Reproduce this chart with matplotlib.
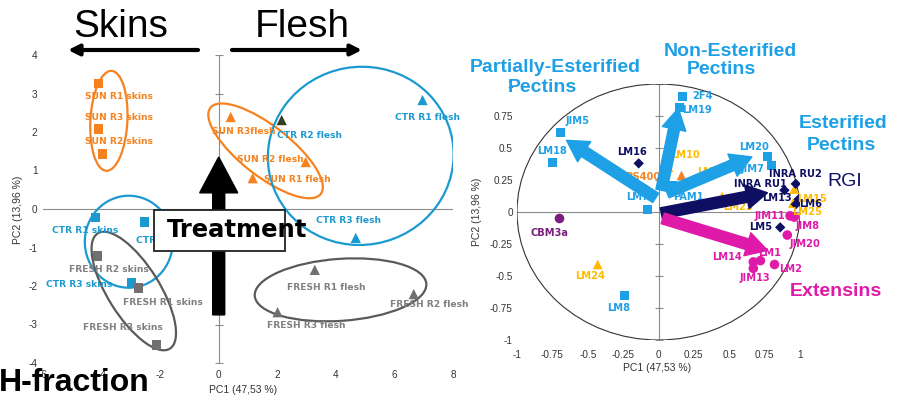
import matplotlib

matplotlib.use("Agg")
import matplotlib.pyplot as plt
import numpy as np
from matplotlib import transforms
from matplotlib.patches import Ellipse, FancyArrow, FancyArrowPatch, Rectangle

W, H = 913, 399

ORANGE = "#f5821f"
BLUE = "#1b9ad0"
GREY = "#707070"
LIGHT_BLUE = "#1ea0e6"
YELLOW = "#ffba00"
NAVY = "#0e0e63"
MAGENTA = "#e01aa8"
PURPLE = "#7a1f7e"
AXIS_GREY = "#8c8c8c"
ARIAL = ["Liberation Sans", "DejaVu Sans"]

# ---- sample scores (PC1 / PC2), left plot
sun_skins_names = ["SUN R1 skins", "SUN R3 skins", "SUN R2 skins"]
sun_skins_x = [-4.10, -4.10, -3.96]
sun_skins_y = [3.25, 2.08, 1.43]

sun_flesh_names = ["SUN R3flesh", "SUN R2 flesh", "SUN R1 flesh"]
sun_flesh_x = [0.41, 2.97, 1.16]
sun_flesh_y = [2.39, 1.22, 0.80]

ctr_skins_names = ["CTR R1 skins", "CTR R2 skins", "CTR R3 skins"]
ctr_skins_x = [-4.20, -2.53, -2.97]
ctr_skins_y = [-0.23, -0.34, -1.90]

ctr_flesh_names = ["CTR R1 flesh", "CTR R2 flesh", "CTR R3 flesh"]
ctr_flesh_x = [6.96, 2.15, 4.68]
ctr_flesh_y = [2.83, 2.31, -0.75]

fresh_skins_names = ["FRESH R2 skins", "FRESH R1 skins", "FRESH R3 skins"]
fresh_skins_x = [-4.13, -2.73, -2.12]
fresh_skins_y = [-1.22, -2.05, -3.53]

fresh_flesh_names = ["FRESH R1 flesh", "FRESH R2 flesh", "FRESH R3 flesh"]
fresh_flesh_x = [3.28, 6.66, 2.01]
fresh_flesh_y = [-1.58, -2.21, -2.68]

score_ticks_x = [-6, -4, -2, 0, 2, 4, 6, 8]
score_ticks_y = [-4, -3, -2, -1, 0, 1, 2, 3, 4]

# ---- antibody loadings, right plot
hg_names = ["2F4", "LM19", "JIM5", "LM18", "LM20", "JIM7", "LM7", "PAM1", "LM8"]
hg_x = [0.17, 0.15, -0.69, -0.75, 0.77, 0.80, -0.08, 0.10, -0.24]
hg_y = [0.90, 0.82, 0.62, 0.39, 0.43, 0.36, 0.02, 0.21, -0.65]

hemi_names = ["LM10", "LM21", "LM23", "LM15", "LM25", "LM24"]
hemi_x = [0.07, 0.27, 0.45, 0.96, 0.95, -0.43]
hemi_y = [0.35, 0.26, 0.12, 0.18, 0.07, -0.41]

bs_names = ["BS400"]
bs_x = [0.16]
bs_y = [0.29]

rg_names = ["LM16", "INRA RU2", "INRA RU1", "LM13", "LM6", "LM5"]
rg_x = [-0.14, 0.97, 0.89, 0.99, 0.97, 0.86]
rg_y = [0.38, 0.22, 0.17, 0.10, 0.06, -0.12]

ext_names = ["JIM11", "JIM8", "JIM20", "LM1", "LM14", "JIM13", "LM2"]
ext_x = [0.93, 0.96, 0.91, 0.72, 0.67, 0.67, 0.82]
ext_y = [-0.03, -0.04, -0.18, -0.38, -0.39, -0.44, -0.41]

cbm_names = ["CBM3a"]
cbm_x = [-0.70]
cbm_y = [-0.05]

loading_ticks = [-1, -0.75, -0.5, -0.25, 0, 0.25, 0.5, 0.75, 1]
loading_tick_labels = ["-1", "-0.75", "-0.5", "-0.25", "0", "0.25", "0.5", "0.75", "1"]

# label offsets in pixels (dx, dy)
LABEL_OFFSETS = {
    "SUN R1 skins": (20, -13), "SUN R3 skins": (20, 11), "SUN R2 skins": (16, 12),
    "SUN R3flesh": (13, -15), "SUN R2 flesh": (-35, 3), "SUN R1 flesh": (45, -1),
    "CTR R1 skins": (-11, -13), "CTR R2 skins": (25, -18), "CTR R3 skins": (-53, -2),
    "CTR R1 flesh": (5, -17), "CTR R2 flesh": (28, -15), "CTR R3 flesh": (-7, 17),
    "FRESH R2 skins": (11, -14), "FRESH R1 skins": (24, -15), "FRESH R3 skins": (-34, 17),
    "FRESH R1 flesh": (11, -18), "FRESH R2 flesh": (15, -10), "FRESH R3 flesh": (29, -13),
    "2F4": (20, 1), "LM19": (17, -3), "JIM5": (17, 12), "LM18": (0, 11),
    "LM20": (-13, 10), "JIM7": (-19, -3), "LM7": (-10, 12), "PAM1": (16, -12),
    "LM8": (-6, -13), "LM10": (17, 12), "LM21": (15, 7), "LM23": (16, -10),
    "LM15": (18, -10), "LM25": (14, -9), "LM24": (-8, -12), "BS400": (-38, -2),
    "LM16": (-7, 11), "INRA RU2": (0, 10), "INRA RU1": (-24, 6), "LM13": (-22, 1),
    "LM6": (15, 0), "LM5": (-20, 0), "JIM11": (-20, 0), "JIM8": (13, -9),
    "JIM20": (18, -9), "LM1": (9, 8), "LM14": (-26, 5), "JIM13": (2, -10),
    "LM2": (16, -5), "CBM3a": (-10, -15),
}
MARKER_COLOR_OVERRIDE = {"CTR R2 flesh": "#34401f"}


def fig_xy(px, py):
    """Top-left pixel position -> figure fraction."""
    return px / W, (H - py) / H


def draw_group(ax, xs, ys, names, marker, color, size, label_color=None, fontsize=6.6):
    colors = [MARKER_COLOR_OVERRIDE.get(n, color) for n in names]
    ax.scatter(xs, ys, marker=marker, s=size, c=colors, linewidths=0, zorder=3)
    for x, y, name in zip(xs, ys, names):
        ax.annotate(name, (x, y), xytext=LABEL_OFFSETS[name], textcoords="offset pixels",
                    ha="center", va="center", fontsize=fontsize, fontweight="bold",
                    color=label_color or color, zorder=4)


def pixel_ellipse(ax, center, width, height, angle, color):
    # size in pixels, centred on a data point
    trans = ax.figure.dpi_scale_trans + transforms.ScaledTranslation(
        center[0], center[1], ax.transData)
    dpi = ax.figure.dpi
    ax.add_patch(Ellipse((0, 0), width / dpi, height / dpi, angle=angle, transform=trans,
                         fill=False, edgecolor=color, linewidth=1.6, zorder=2))


def style_axes(ax, ticks_x, ticks_y, xlabels, ylabels):
    for side in ax.spines.values():
        side.set_visible(False)
    ax.set_xticks(ticks_x)
    ax.set_yticks(ticks_y)
    ax.set_xticklabels(xlabels)
    ax.set_yticklabels(ylabels)
    ax.tick_params(length=0, labelsize=7.2, labelcolor="#333333")
    for lbl in ax.get_xticklabels() + ax.get_yticklabels():
        lbl.set_family(ARIAL)
    ax.axhline(0, color=AXIS_GREY, linewidth=0.8, zorder=1)
    ax.plot([0, 0], [ticks_y[0], ticks_y[-1]], color=AXIS_GREY, linewidth=0.8, zorder=1)
    ax.plot(np.zeros(len(ticks_y)), ticks_y, ls="none", marker="_", ms=6,
            mew=0.8, color=AXIS_GREY, zorder=1)


fig = plt.figure(figsize=(W / 100, H / 100), dpi=100)

# ================= left: scores =================
ax1 = fig.add_axes([43 / W, (H - 363) / H, 410 / W, 308 / H])
ax1.set_xlim(-6, 8)
ax1.set_ylim(-4, 4)
style_axes(ax1, score_ticks_x, score_ticks_y,
           [str(v) for v in score_ticks_x], [str(v) for v in score_ticks_y])
ax1.tick_params(axis="x", pad=5)
ax1.tick_params(axis="y", pad=4)
ax1.text(0.488, -0.088, "PC1 (47,53 %)", transform=ax1.transAxes, ha="center", va="center",
         fontsize=7.5, family=ARIAL, color="#333333")
ax1.text(-0.061, 0.497, "PC2 (13,96 %)", transform=ax1.transAxes, ha="center", va="center",
         rotation=90, fontsize=7.5, family=ARIAL, color="#333333")

pixel_ellipse(ax1, (-3.75, 2.29), 37, 100, -3, ORANGE)
pixel_ellipse(ax1, (1.60, 1.51), 140, 50, -38, ORANGE)
pixel_ellipse(ax1, (4.85, 1.38), 186, 178, 10, BLUE)
pixel_ellipse(ax1, (-3.07, -0.85), 88, 92, 0, BLUE)
pixel_ellipse(ax1, (-2.90, -2.13), 136, 52, -58, "#5a5a5a")
pixel_ellipse(ax1, (4.16, -2.10), 172, 62, 4, "#5a5a5a")

draw_group(ax1, sun_skins_x, sun_skins_y, sun_skins_names, "s", ORANGE, 44)
draw_group(ax1, sun_flesh_x, sun_flesh_y, sun_flesh_names, "^", ORANGE, 55)
draw_group(ax1, ctr_skins_x, ctr_skins_y, ctr_skins_names, "s", BLUE, 44)
draw_group(ax1, ctr_flesh_x, ctr_flesh_y, ctr_flesh_names, "^", BLUE, 55)
draw_group(ax1, fresh_skins_x, fresh_skins_y, fresh_skins_names, "s", GREY, 44,
           label_color="#808080")
draw_group(ax1, fresh_flesh_x, fresh_flesh_y, fresh_flesh_names, "^", GREY, 55,
           label_color="#808080")

# treatment arrow with its box
ax1.add_patch(FancyArrow(0, -2.75, 0, 4.1, width=0.41, head_width=1.3, head_length=0.93,
                         length_includes_head=True, color="black", zorder=6))
bx, by = fig_xy(154, 251)
fig.add_artist(Rectangle((bx, by), 131 / W, 41 / H, transform=fig.transFigure,
                         facecolor="white", edgecolor="#222222", linewidth=1.3, zorder=5))
fig.text(*fig_xy(237, 230), "Treatment", ha="center", va="center", fontsize=17.5,
         fontweight="bold", color="black", zorder=6)

# skins / flesh headers
for x0, x1 in [(198, 68), (232, 362)]:
    fig.add_artist(FancyArrowPatch(fig_xy(x0, 50), fig_xy(x1, 50), transform=fig.transFigure,
                                   arrowstyle="-|>", mutation_scale=16, linewidth=3,
                                   color="black", shrinkA=0, shrinkB=0))
fig.text(*fig_xy(121, 37), "Skins", ha="center", va="baseline", fontsize=28, family=ARIAL)
fig.text(*fig_xy(302, 37), "Flesh", ha="center", va="baseline", fontsize=28, family=ARIAL)
fig.text(*fig_xy(-1, 391), "H-fraction", ha="left", va="baseline", fontsize=23,
         fontweight="bold", family=ARIAL, zorder=6)

# ================= right: loadings =================
ax2 = fig.add_axes([517 / W, (H - 340) / H, 283 / W, 256 / H])
ax2.set_xlim(-1, 1)
ax2.set_ylim(-1, 1)
style_axes(ax2, loading_ticks, loading_ticks, loading_tick_labels, loading_tick_labels)
ax2.tick_params(axis="x", pad=7)
ax2.tick_params(axis="y", pad=3)
ax2.text(0.495, -0.109, "PC1 (47,53 %)", transform=ax2.transAxes, ha="center", va="center",
         fontsize=7.5, family=ARIAL, color="#333333")
ax2.text(-0.141, 0.5, "PC2 (13,96 %)", transform=ax2.transAxes, ha="center", va="center",
         rotation=90, fontsize=7.5, family=ARIAL, color="#333333")
ax2.add_patch(Ellipse((0, 0), 2, 2, fill=False, edgecolor="#333333", linewidth=0.8, zorder=1))

draw_group(ax2, hg_x, hg_y, hg_names, "s", LIGHT_BLUE, 42, fontsize=7.1)
draw_group(ax2, hemi_x, hemi_y, hemi_names, "^", YELLOW, 50, fontsize=7.1)
draw_group(ax2, bs_x, bs_y, bs_names, "^", ORANGE, 50, fontsize=7.1)
draw_group(ax2, rg_x, rg_y, rg_names, "D", NAVY, 28, fontsize=7.1)
draw_group(ax2, ext_x, ext_y, ext_names, "o", MAGENTA, 48, fontsize=7.1)
draw_group(ax2, cbm_x, cbm_y, cbm_names, "o", PURPLE, 48, fontsize=7.1)

# grouping arrows: (start, tip, colour)
group_arrows = [
    ((-0.02, 0.11), (-0.65, 0.56), LIGHT_BLUE),
    ((0.02, 0.17), (0.14, 0.81), LIGHT_BLUE),
    ((0.06, 0.15), (0.66, 0.43), LIGHT_BLUE),
    ((0.02, -0.01), (0.77, 0.15), NAVY),
    ((0.03, -0.05), (0.77, -0.30), MAGENTA),
]
for start, tip, color in group_arrows:
    ax2.add_patch(FancyArrowPatch(start, tip, arrowstyle="simple,head_length=0.42,"
                                  "head_width=0.48,tail_width=0.22", mutation_scale=36,
                                  color=color, shrinkA=0, shrinkB=0, zorder=5))

group_titles = [
    (470, 68, "Partially-Esterified", "left", LIGHT_BLUE, "bold"),
    (508, 88, "Pectins", "left", LIGHT_BLUE, "bold"),
    (730, 52, "Non-Esterified", "center", LIGHT_BLUE, "bold"),
    (721, 70, "Pectins", "center", LIGHT_BLUE, "bold"),
    (843, 123, "Esterified", "center", LIGHT_BLUE, "bold"),
    (841, 145, "Pectins", "center", LIGHT_BLUE, "bold"),
    (827, 182, "RGI", "left", NAVY, "normal"),
    (790, 292, "Extensins", "left", MAGENTA, "bold"),
]
for px, py, text, ha, color, weight in group_titles:
    fig.text(*fig_xy(px, py), text, ha=ha, va="center", fontsize=14, fontweight=weight,
             color=color, family=ARIAL)

fig.savefig("out.png", dpi=100)
